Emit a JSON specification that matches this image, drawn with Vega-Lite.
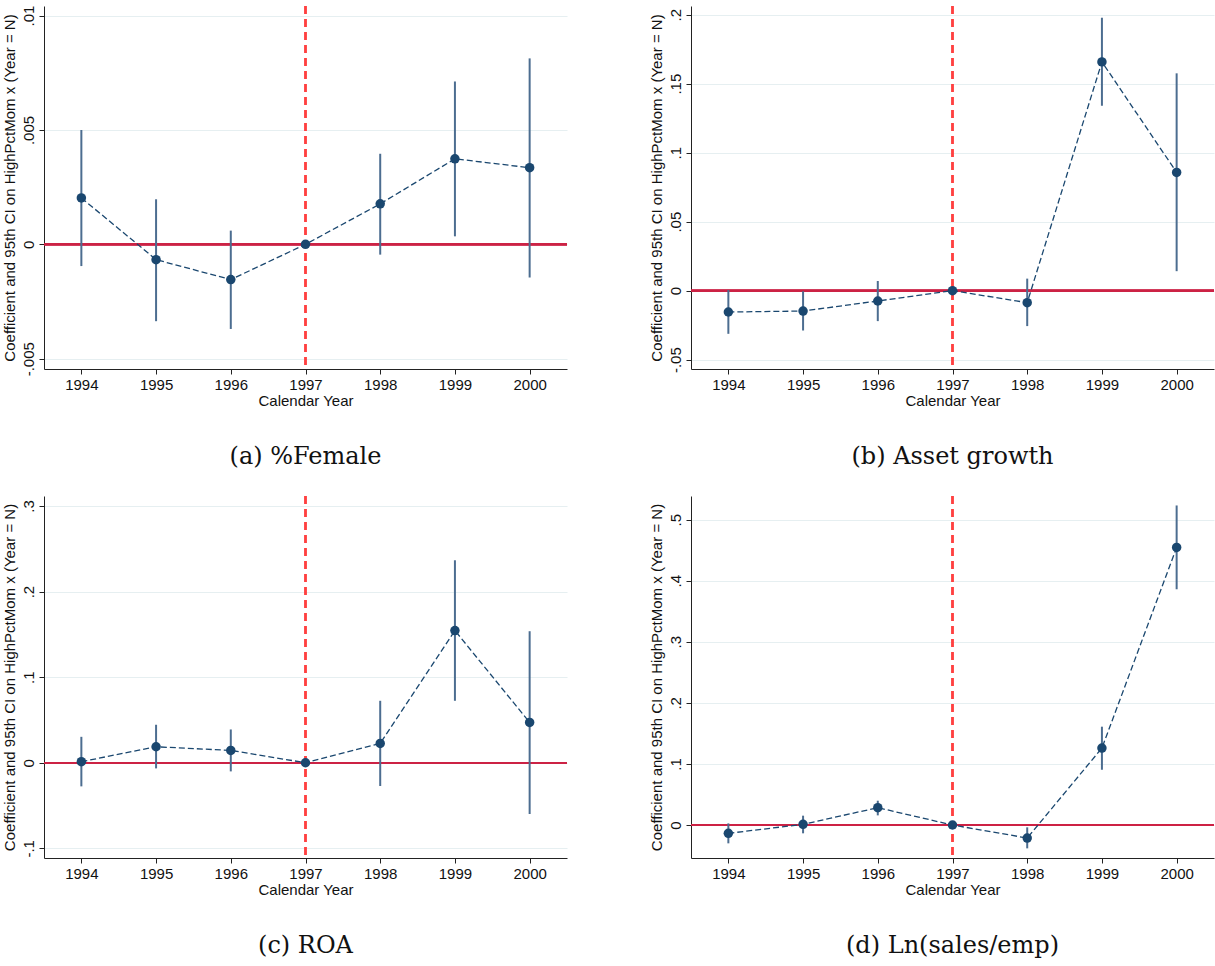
{
  "$schema": "https://vega.github.io/schema/vega-lite/v6.json",
  "background": "white",
  "padding": {"left": 2, "top": 5, "right": 0, "bottom": 0},
  "autosize": {"type": "pad"},
  "bounds": "flush",
  "columns": 2,
  "spacing": {"row": 127, "column": 124},
  "config": {
    "font": "Liberation Sans",
    "view": {"stroke": null},
    "axis": {
      "labelFont": "Liberation Sans",
      "titleFont": "Liberation Sans",
      "labelFontSize": 15,
      "titleFontSize": 15,
      "titleFontWeight": "normal",
      "labelColor": "#111111",
      "titleColor": "#111111",
      "domainColor": "#222222",
      "tickColor": "#222222",
      "tickSize": 5,
      "domainWidth": 1,
      "tickWidth": 1
    },
    "axisX": {"grid": false, "labelPadding": 3, "titlePadding": 1, "labelFlush": false},
    "axisY": {"grid": true, "gridColor": "#e6eff1", "gridWidth": 1.2, "labelAngle": -90, "labelAlign": "center", "labelBaseline": "bottom", "labelPadding": 3, "titlePadding": 4},
    "title": {"font": "DejaVu Serif", "fontSize": 24, "fontWeight": "normal", "color": "#111111", "orient": "bottom", "anchor": "middle", "offset": 37}
  },
  "datasets": {
    "a": [
      {"year": 1994, "coef": 0.00203, "lo": -0.00095, "hi": 0.0050},
      {"year": 1995, "coef": -0.00067, "lo": -0.00336, "hi": 0.00197},
      {"year": 1996, "coef": -0.00154, "lo": -0.0037, "hi": 0.0006},
      {"year": 1997, "coef": 0, "lo": 0, "hi": 0},
      {"year": 1998, "coef": 0.00177, "lo": -0.00045, "hi": 0.00396},
      {"year": 1999, "coef": 0.00374, "lo": 0.00035, "hi": 0.00712},
      {"year": 2000, "coef": 0.00335, "lo": -0.00145, "hi": 0.00813}
    ],
    "b": [
      {"year": 1994, "coef": -0.0155, "lo": -0.0313, "hi": 0.0005},
      {"year": 1995, "coef": -0.0148, "lo": -0.0289, "hi": -0.0005},
      {"year": 1996, "coef": -0.0075, "lo": -0.0221, "hi": 0.007},
      {"year": 1997, "coef": 0, "lo": 0, "hi": 0},
      {"year": 1998, "coef": -0.0087, "lo": -0.0257, "hi": 0.0087},
      {"year": 1999, "coef": 0.1658, "lo": 0.134, "hi": 0.1978},
      {"year": 2000, "coef": 0.0857, "lo": 0.0141, "hi": 0.1575}
    ],
    "c": [
      {"year": 1994, "coef": 0.0012, "lo": -0.0276, "hi": 0.0303},
      {"year": 1995, "coef": 0.0187, "lo": -0.0066, "hi": 0.0444},
      {"year": 1996, "coef": 0.0144, "lo": -0.0101, "hi": 0.0389},
      {"year": 1997, "coef": 0, "lo": 0, "hi": 0},
      {"year": 1998, "coef": 0.0226, "lo": -0.0272, "hi": 0.0724},
      {"year": 1999, "coef": 0.1545, "lo": 0.0724, "hi": 0.2366},
      {"year": 2000, "coef": 0.0471, "lo": -0.0599, "hi": 0.1537}
    ],
    "d": [
      {"year": 1994, "coef": -0.0136, "lo": -0.03, "hi": 0.0027},
      {"year": 1995, "coef": 0.0011, "lo": -0.0136, "hi": 0.0153},
      {"year": 1996, "coef": 0.0284, "lo": 0.0158, "hi": 0.0398},
      {"year": 1997, "coef": 0, "lo": 0, "hi": 0},
      {"year": 1998, "coef": -0.0213, "lo": -0.0382, "hi": -0.0038},
      {"year": 1999, "coef": 0.126, "lo": 0.0905, "hi": 0.161},
      {"year": 2000, "coef": 0.4545, "lo": 0.386, "hi": 0.5232}
    ]
  },
  "concat": [
    {
      "width": 523, "height": 363,
      "title": "(a) %Female",
      "data": {"name": "a"},
      "encoding": {
        "x": {"field": "year", "type": "quantitative", "scale": {"domain": [1993.5, 2000.5], "nice": false, "zero": false}, "axis": {"values": [1994, 1995, 1996, 1997, 1998, 1999, 2000], "format": "d", "title": "Calendar Year"}}
      },
      "layer": [
        {"mark": {"type": "rule", "color": "#cc2244", "strokeWidth": 1.6}, "encoding": {"x": {"datum": 1993.5, "type": "quantitative"}, "x2": {"datum": 2000.5}, "y": {"datum": 0, "type": "quantitative", "scale": {"domain": [-0.00545, 0.01042], "nice": false, "zero": false}, "axis": {"values": [-0.005, 0, 0.005, 0.01], "labelExpr": "replace(replace(format(datum.value, '~g'), '0.', '.'), '−', '-')", "title": "Coefficient and 95th CI on HighPctMom x (Year = N)"}}}},
        {"mark": {"type": "rule", "color": "#ff4040", "strokeWidth": 1.6, "strokeDash": [8, 5]}, "encoding": {"x": {"datum": 1997, "type": "quantitative"}}},
        {"mark": {"type": "rule", "color": "#4c6d90", "strokeWidth": 2}, "encoding": {"y": {"field": "lo", "type": "quantitative"}, "y2": {"field": "hi"}}},
        {"mark": {"type": "line", "color": "#1a476f", "strokeWidth": 1.3, "strokeDash": [6, 3]}, "encoding": {"y": {"field": "coef", "type": "quantitative"}}},
        {"mark": {"type": "point", "filled": true, "color": "#1a476f", "opacity": 1, "size": 90}, "encoding": {"y": {"field": "coef", "type": "quantitative"}}}
      ]
    },
    {
      "width": 523, "height": 363,
      "title": "(b) Asset growth",
      "data": {"name": "b"},
      "encoding": {
        "x": {"field": "year", "type": "quantitative", "scale": {"domain": [1993.5, 2000.5], "nice": false, "zero": false}, "axis": {"values": [1994, 1995, 1996, 1997, 1998, 1999, 2000], "format": "d", "title": "Calendar Year"}}
      },
      "layer": [
        {"mark": {"type": "rule", "color": "#cc2244", "strokeWidth": 1.6}, "encoding": {"x": {"datum": 1993.5, "type": "quantitative"}, "x2": {"datum": 2000.5}, "y": {"datum": 0, "type": "quantitative", "scale": {"domain": [-0.0568, 0.2063], "nice": false, "zero": false}, "axis": {"values": [-0.05, 0, 0.05, 0.1, 0.15, 0.2], "labelExpr": "replace(replace(format(datum.value, '~g'), '0.', '.'), '−', '-')", "title": "Coefficient and 95th CI on HighPctMom x (Year = N)"}}}},
        {"mark": {"type": "rule", "color": "#ff4040", "strokeWidth": 1.6, "strokeDash": [8, 5]}, "encoding": {"x": {"datum": 1997, "type": "quantitative"}}},
        {"mark": {"type": "rule", "color": "#4c6d90", "strokeWidth": 2}, "encoding": {"y": {"field": "lo", "type": "quantitative"}, "y2": {"field": "hi"}}},
        {"mark": {"type": "line", "color": "#1a476f", "strokeWidth": 1.3, "strokeDash": [6, 3]}, "encoding": {"y": {"field": "coef", "type": "quantitative"}}},
        {"mark": {"type": "point", "filled": true, "color": "#1a476f", "opacity": 1, "size": 90}, "encoding": {"y": {"field": "coef", "type": "quantitative"}}}
      ]
    },
    {
      "width": 523, "height": 362,
      "title": "(c) ROA",
      "data": {"name": "c"},
      "encoding": {
        "x": {"field": "year", "type": "quantitative", "scale": {"domain": [1993.5, 2000.5], "nice": false, "zero": false}, "axis": {"values": [1994, 1995, 1996, 1997, 1998, 1999, 2000], "format": "d", "title": "Calendar Year"}}
      },
      "layer": [
        {"mark": {"type": "rule", "color": "#cc2244", "strokeWidth": 1.6}, "encoding": {"x": {"datum": 1993.5, "type": "quantitative"}, "x2": {"datum": 2000.5}, "y": {"datum": 0, "type": "quantitative", "scale": {"domain": [-0.1113, 0.3117], "nice": false, "zero": false}, "axis": {"values": [-0.1, 0, 0.1, 0.2, 0.3], "labelExpr": "replace(replace(format(datum.value, '~g'), '0.', '.'), '−', '-')", "title": "Coefficient and 95th CI on HighPctMom x (Year = N)"}}}},
        {"mark": {"type": "rule", "color": "#ff4040", "strokeWidth": 1.6, "strokeDash": [8, 5]}, "encoding": {"x": {"datum": 1997, "type": "quantitative"}}},
        {"mark": {"type": "rule", "color": "#4c6d90", "strokeWidth": 2}, "encoding": {"y": {"field": "lo", "type": "quantitative"}, "y2": {"field": "hi"}}},
        {"mark": {"type": "line", "color": "#1a476f", "strokeWidth": 1.3, "strokeDash": [6, 3]}, "encoding": {"y": {"field": "coef", "type": "quantitative"}}},
        {"mark": {"type": "point", "filled": true, "color": "#1a476f", "opacity": 1, "size": 90}, "encoding": {"y": {"field": "coef", "type": "quantitative"}}}
      ]
    },
    {
      "width": 523, "height": 362,
      "title": "(d) Ln(sales/emp)",
      "data": {"name": "d"},
      "encoding": {
        "x": {"field": "year", "type": "quantitative", "scale": {"domain": [1993.5, 2000.5], "nice": false, "zero": false}, "axis": {"values": [1994, 1995, 1996, 1997, 1998, 1999, 2000], "format": "d", "title": "Calendar Year"}}
      },
      "layer": [
        {"mark": {"type": "rule", "color": "#cc2244", "strokeWidth": 1.6}, "encoding": {"x": {"datum": 1993.5, "type": "quantitative"}, "x2": {"datum": 2000.5}, "y": {"datum": 0, "type": "quantitative", "scale": {"domain": [-0.054, 0.5387], "nice": false, "zero": false}, "axis": {"values": [0, 0.1, 0.2, 0.3, 0.4, 0.5], "labelExpr": "replace(replace(format(datum.value, '~g'), '0.', '.'), '−', '-')", "title": "Coefficient and 95th CI on HighPctMom x (Year = N)"}}}},
        {"mark": {"type": "rule", "color": "#ff4040", "strokeWidth": 1.6, "strokeDash": [8, 5]}, "encoding": {"x": {"datum": 1997, "type": "quantitative"}}},
        {"mark": {"type": "rule", "color": "#4c6d90", "strokeWidth": 2}, "encoding": {"y": {"field": "lo", "type": "quantitative"}, "y2": {"field": "hi"}}},
        {"mark": {"type": "line", "color": "#1a476f", "strokeWidth": 1.3, "strokeDash": [6, 3]}, "encoding": {"y": {"field": "coef", "type": "quantitative"}}},
        {"mark": {"type": "point", "filled": true, "color": "#1a476f", "opacity": 1, "size": 90}, "encoding": {"y": {"field": "coef", "type": "quantitative"}}}
      ]
    }
  ]
}
